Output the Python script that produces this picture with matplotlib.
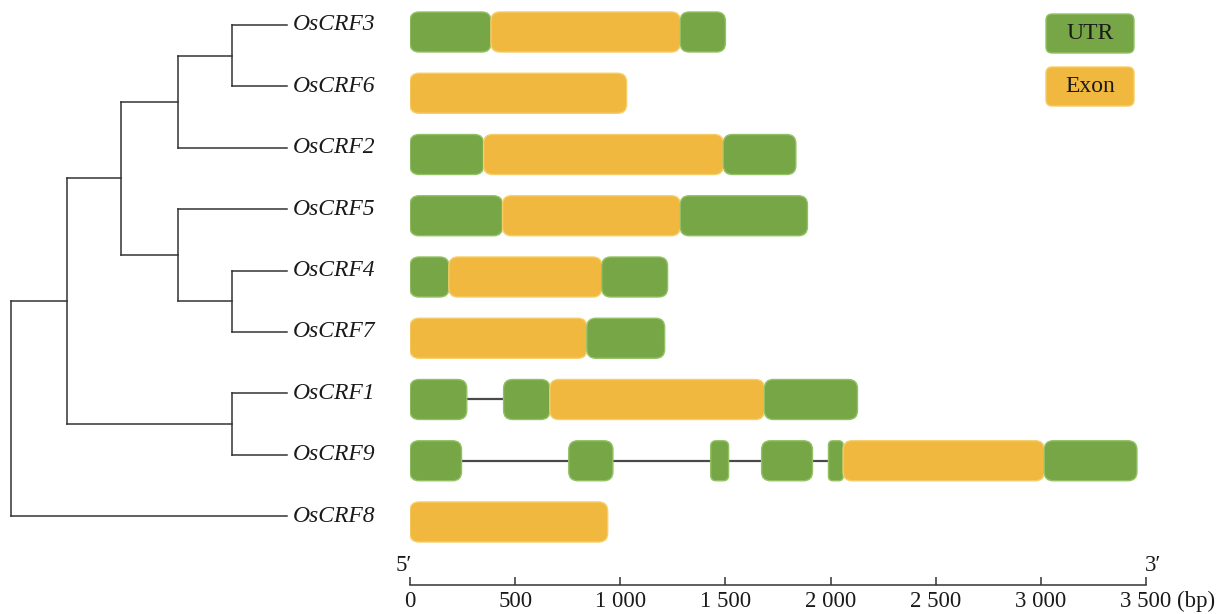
import matplotlib
matplotlib.use("Agg")
import matplotlib.pyplot as plt
from matplotlib.patches import FancyBboxPatch
from matplotlib.transforms import offset_copy

# ---------------- data ----------------
genes = ["OsCRF3", "OsCRF6", "OsCRF2", "OsCRF5", "OsCRF4",
         "OsCRF7", "OsCRF1", "OsCRF9", "OsCRF8"]

# segments: (start_bp, end_bp, kind)
OsCRF3 = [(0, 385, "UTR"), (385, 1285, "Exon"), (1285, 1500, "UTR")]
OsCRF6 = [(0, 1030, "Exon")]
OsCRF2 = [(0, 350, "UTR"), (350, 1490, "Exon"), (1490, 1835, "UTR")]
OsCRF5 = [(0, 440, "UTR"), (440, 1285, "Exon"), (1285, 1890, "UTR")]
OsCRF4 = [(0, 185, "UTR"), (185, 912, "Exon"), (912, 1225, "UTR")]
OsCRF7 = [(0, 841, "Exon"), (841, 1211, "UTR")]
OsCRF1 = [(0, 270, "UTR"), (445, 665, "UTR"), (665, 1685, "Exon"), (1685, 2128, "UTR")]
OsCRF9 = [(0, 245, "UTR"), (755, 965, "UTR"), (1430, 1515, "UTR"),
          (1672, 1914, "UTR"), (1990, 2060, "UTR"), (2060, 3016, "Exon"),
          (3016, 3457, "UTR")]
OsCRF8 = [(0, 940, "Exon")]
structures = [OsCRF3, OsCRF6, OsCRF2, OsCRF5, OsCRF4, OsCRF7, OsCRF1, OsCRF9, OsCRF8]

xticks = [0, 500, 1000, 1500, 2000, 2500, 3000, 3500]
xticklabels = ["0", "500", "1 000", "1 500", "2 000", "2 500", "3 000", "3 500"]

# tree: internal nodes (child_a, child_b, depth in px-units); leaves are gene names
tip_depth = 287
node_36 = ("OsCRF3", "OsCRF6", 232)
node_362 = (node_36, "OsCRF2", 178)
node_47 = ("OsCRF4", "OsCRF7", 232)
node_547 = ("OsCRF5", node_47, 178)
node_A = (node_362, node_547, 121)
node_19 = ("OsCRF1", "OsCRF9", 232)
node_B = (node_A, node_19, 67)
root = (node_B, "OsCRF8", 11)

# ---------------- style ----------------
colors = {"UTR": "#76A645", "Exon": "#F0B83E"}
edges = {"UTR": "#93C266", "Exon": "#F6CD66"}
W, H = 1217, 614
serif = ["Liberation Serif", "DejaVu Serif"]
plt.rcParams["font.family"] = serif

fig = plt.figure(figsize=(W / 100, H / 100), dpi=100)

ax_left_px, ax_right_px = 410, 1146
ax_bottom_px = 585
row_px = 61.25
first_row_px = 32

gax = fig.add_axes([ax_left_px / W, (H - ax_bottom_px) / H,
                    (ax_right_px - ax_left_px) / W, ax_bottom_px / H])
gax.set_xlim(0, 3500)
y_top = -first_row_px / row_px
y_bot = (ax_bottom_px - first_row_px) / row_px
gax.set_ylim(y_bot, y_top)

bp_per_px = 3500 / (ax_right_px - ax_left_px)
aspect = (1 / row_px) / bp_per_px
bar_h = 40 / row_px


def rbox(ax, x0, x1, yc, h, fc, ec, r_px=9, zorder=3):
    w = x1 - x0
    r = min(r_px * bp_per_px, 0.3 * w, 0.5 * h / aspect)
    p = FancyBboxPatch((x0, yc - h / 2), w, h,
                       boxstyle=f"round,pad=0,rounding_size={r}",
                       mutation_aspect=aspect, fc=fc, ec=ec, lw=1.0,
                       zorder=zorder)
    ax.add_patch(p)
    return p


for i, segs in enumerate(structures):
    end = max(s[1] for s in segs)
    gax.plot([0, end], [i, i], color="#4a4a4a", lw=1.6, zorder=1,
             solid_capstyle="butt")
    for (s, e, k) in segs:
        rbox(gax, s, e, i, bar_h, colors[k], edges[k])

# legend
leg_x0 = (1046 - ax_left_px) * bp_per_px
leg_x1 = (1134 - ax_left_px) * bp_per_px
for j, k in enumerate(["UTR", "Exon"]):
    ytop_px = 14 + j * 53
    y0 = (ytop_px - first_row_px) / row_px
    h = 39 / row_px
    rbox(gax, leg_x0, leg_x1, y0 + h / 2, h, colors[k], edges[k], r_px=6)
    gax.text((leg_x0 + leg_x1) / 2, y0 + h / 2, k, ha="center", va="center",
             fontsize=17, color="#1a1a1a", zorder=5)

# axis
for s in ["top", "right", "left"]:
    gax.spines[s].set_visible(False)
gax.spines["bottom"].set_color("#333333")
gax.spines["bottom"].set_linewidth(1.1)
gax.set_yticks([])
gax.set_xticks(xticks)
gax.set_xticklabels(xticklabels, fontsize=16.5)
gax.tick_params(axis="x", direction="in", length=6, width=1.1,
                color="#333333", pad=4, labelcolor="#1a1a1a")
gax.text(0, 0, "5′", transform=offset_copy(gax.get_xaxis_transform(), fig=fig, x=2, y=9, units="dots"),
         ha="right", va="bottom", fontsize=16.5, color="#1a1a1a")
gax.text(3500, 0, "3′", transform=offset_copy(gax.get_xaxis_transform(), fig=fig, x=-1, y=9, units="dots"),
         ha="left", va="bottom", fontsize=16.5, color="#1a1a1a")

fig.canvas.draw()
last_lbl = gax.get_xticklabels()[-1]
gax.annotate("(bp)", xy=(1, 0.5), xycoords=last_lbl, xytext=(4, 0),
             textcoords="offset points", ha="left", va="center",
             fontsize=16.5, color="#1a1a1a", annotation_clip=False)

# ---------------- tree ----------------
tax = fig.add_axes([0, (H - ax_bottom_px) / H, ax_left_px / W, ax_bottom_px / H])
tax.set_xlim(0, ax_left_px)
tip_first_px, tip_row_px = 25, 61.4
tax.set_ylim((ax_bottom_px - tip_first_px) / tip_row_px, -tip_first_px / tip_row_px)
tax.axis("off")

line_kw = dict(color="#333333", lw=1.1, solid_capstyle="projecting")


def draw(node):
    if isinstance(node, str):
        y = genes.index(node)
        return y, tip_depth
    a, b, x = node
    ya, xa = draw(a)
    yb, xb = draw(b)
    tax.plot([x, x], [ya, yb], **line_kw)
    tax.plot([x, xa], [ya, ya], **line_kw)
    tax.plot([x, xb], [yb, yb], **line_kw)
    return (ya + yb) / 2, x


draw(root)
for i, g in enumerate(genes):
    tax.text(tip_depth + 6, i, g, ha="left", va="center", fontsize=17,
             style="italic", color="#1a1a1a")

fig.savefig("out.png", dpi=100, facecolor="white")
